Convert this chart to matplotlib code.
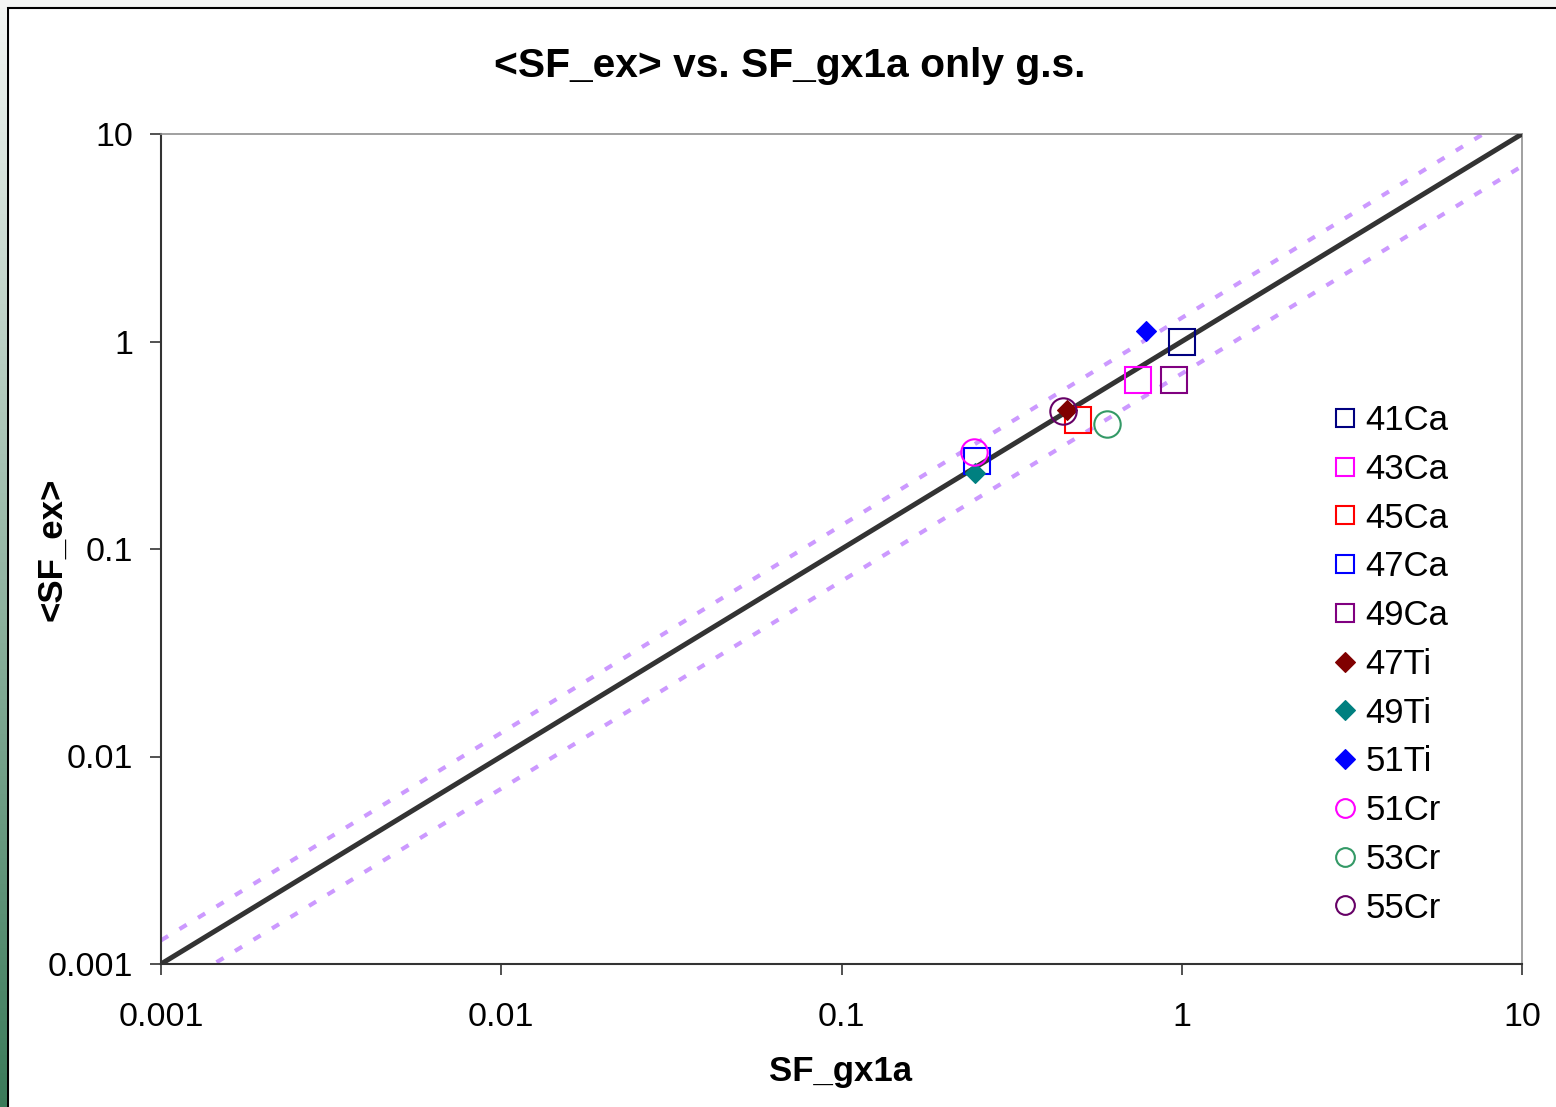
import numpy as np
import matplotlib
matplotlib.use("Agg")
import matplotlib.pyplot as plt
from matplotlib.lines import Line2D
from matplotlib.patches import Rectangle

plt.rcParams["font.family"] = ["Liberation Sans", "DejaVu Sans"]

# nuclei, with g.s. spectroscopic factors (SF_gx1a) and measured <SF_ex>
nuclei = ["41Ca", "43Ca", "45Ca", "47Ca", "49Ca", "47Ti", "49Ti", "51Ti", "51Cr", "53Cr", "55Cr"]
sf_gx1a = [1.00, 0.742, 0.495, 0.251, 0.946, 0.459, 0.246, 0.785, 0.245, 0.602, 0.449]
sf_ex = [0.99, 0.650, 0.419, 0.265, 0.650, 0.468, 0.232, 1.127, 0.292, 0.402, 0.462]
markers = ["s", "s", "s", "s", "s", "D", "D", "D", "o", "o", "o"]
colors = ["#000080", "#FF00FF", "#FF0000", "#0000FF", "#800080",
          "#800000", "#008080", "#0000FF", "#FF00FF", "#339966", "#660066"]

# y = x reference and +/-30% band
ref_x = np.array([0.001, 10.0])
band_hi = 1.3
band_lo = 0.7

tick_vals = [0.001, 0.01, 0.1, 1, 10]
tick_labels = ["0.001", "0.01", "0.1", "1", "10"]

W, H = 1556, 1107
fig = plt.figure(figsize=(W / 100, H / 100), dpi=100)
fig.patch.set_facecolor("#f4f5f4")

# white page with black frame, green gradient strip on the left
page = Rectangle((8 / W, -0.01), 1.01, 1.01 - 8 / H, transform=fig.transFigure,
                 facecolor="white", edgecolor="black", linewidth=1.5, zorder=-5)
fig.patches.append(page)
strip = fig.add_axes([0, 0, 7 / W, 1 - 8 / H], zorder=-4)
top_c = np.array([0.95, 0.96, 0.95])
bot_c = np.array([0.23, 0.48, 0.35])
t = np.linspace(0, 1, 256)[:, None]
grad = top_c * (1 - t) + bot_c * t
strip.imshow(grad[:, None, :], aspect="auto", extent=[0, 1, 0, 1])
strip.set_axis_off()

ax = fig.add_axes([161 / W, 1 - 964 / H, (1522 - 161) / W, (964 - 134) / H])
ax.set_facecolor("white")
ax.set_xscale("log")
ax.set_yscale("log")
ax.set_xlim(0.001, 10)
ax.set_ylim(0.001, 10)

ax.plot(ref_x, ref_x * band_hi, color="#CC99FF", lw=3.0, dashes=(2.0, 3.2), zorder=2)
ax.plot(ref_x, ref_x * band_lo, color="#CC99FF", lw=3.0, dashes=(2.0, 3.2), zorder=2)
ax.plot(ref_x, ref_x, color="#333333", lw=3.6, solid_capstyle="round", zorder=3)

handles = []
for name, x, y, m, c in zip(nuclei, sf_gx1a, sf_ex, markers, colors):
    if m == "D":
        ax.plot([x], [y], ls="none", marker="D", ms=10.2, mfc=c, mec=c, mew=0.8, zorder=4)
        handles.append(Line2D([], [], ls="none", marker="D", ms=9.8, mfc=c, mec=c, mew=0.8, label=name))
    else:
        ax.plot([x], [y], ls="none", marker=m, ms=19, mfc="none", mec=c, mew=1.5, zorder=4)
        handles.append(Line2D([], [], ls="none", marker=m, ms=13.5, mfc="none", mec=c, mew=1.5, label=name))

ax.set_xticks(tick_vals)
ax.set_xticklabels(tick_labels)
ax.set_yticks(tick_vals)
ax.set_yticklabels(tick_labels)
ax.minorticks_off()
ax.tick_params(axis="both", direction="out", length=8, width=1.2, color="#333333",
               labelsize=24.5, labelcolor="black")
ax.tick_params(axis="x", pad=19)
ax.tick_params(axis="y", pad=12)

for side in ("left", "bottom"):
    ax.spines[side].set_color("#333333")
    ax.spines[side].set_linewidth(1.5)
for side in ("top", "right"):
    ax.spines[side].set_color("#909090")
    ax.spines[side].set_linewidth(1.2)

ax.set_xlabel("SF_gx1a", fontsize=25, fontweight="bold")
ax.set_ylabel("<SF_ex>", fontsize=25, fontweight="bold")
ax.xaxis.label.set_va("center")
ax.yaxis.label.set_va("center")
ax.xaxis.set_label_coords((841 - 161) / 1361, (964 - 1072) / 830)
ax.yaxis.set_label_coords((52 - 161) / 1361, (964 - 549) / 830)

fig.text(790 / W, 1 - 66 / H, "<SF_ex> vs. SF_gx1a only g.s.", fontsize=29.3,
         fontweight="bold", ha="center", va="center")

ax.legend(handles=handles, loc="upper left", bbox_to_anchor=(1331 / W, 1 - 404 / H),
          bbox_transform=fig.transFigure, frameon=False, fontsize=25,
          handlelength=0.8, handletextpad=0.2, labelspacing=0.454,
          borderpad=0, borderaxespad=0)

fig.savefig("out.png", dpi=100)
